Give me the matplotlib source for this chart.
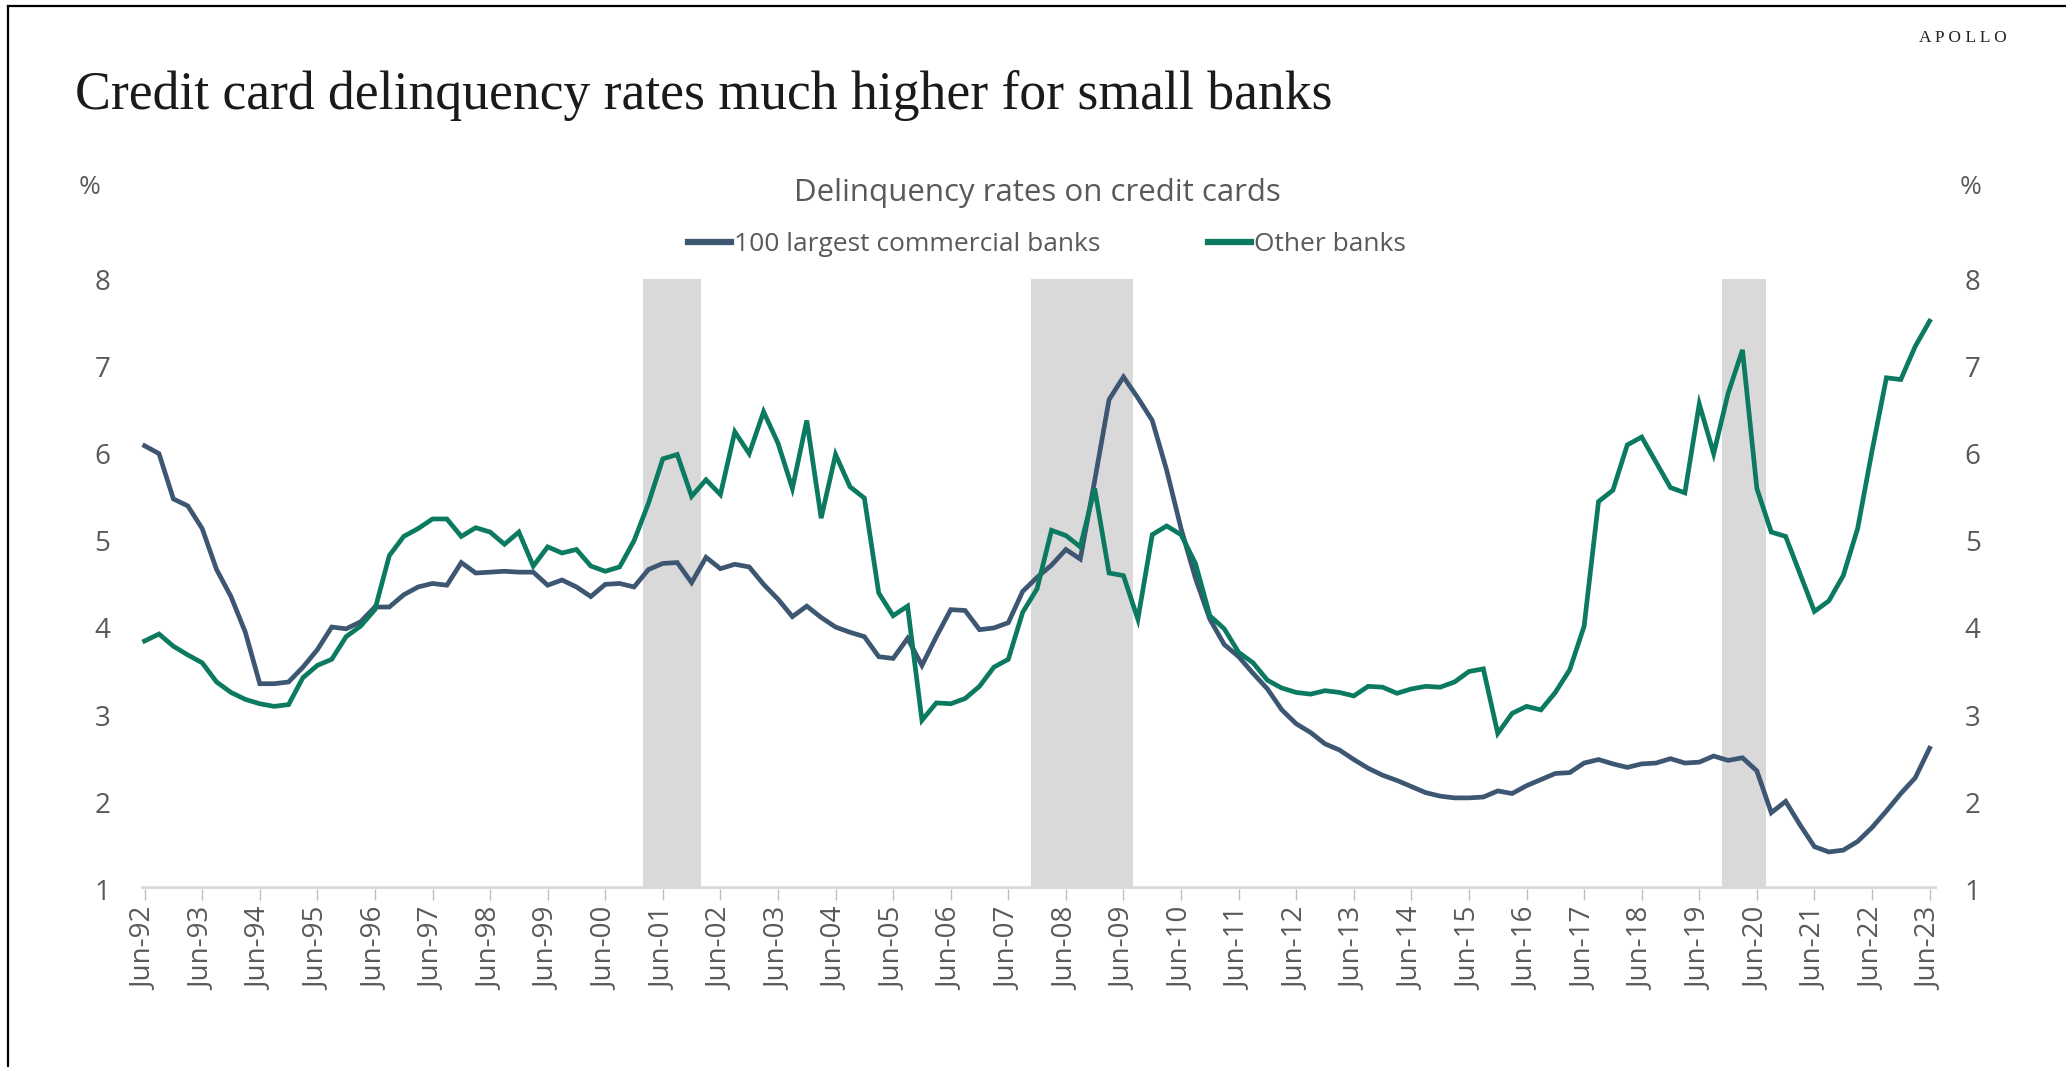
import matplotlib
matplotlib.use("Agg")
import matplotlib.pyplot as plt
import numpy as np

# ---------------- data ----------------
years = list(range(1992, 2024))
tick_labels = ["Jun-%02d" % (y % 100) for y in years]

large_banks = [
    6.09, 6.00, 5.48, 5.40, 5.14, 4.67, 4.36, 3.95, 3.36, 3.36, 3.38, 3.55, 3.75, 4.01, 3.99, 4.07,
    4.24, 4.24, 4.38, 4.47, 4.51, 4.49, 4.75, 4.63, 4.64, 4.65, 4.64, 4.64, 4.49, 4.55, 4.47, 4.36,
    4.50, 4.51, 4.47, 4.67, 4.74, 4.75, 4.52, 4.81, 4.68, 4.73, 4.70, 4.50, 4.33, 4.13, 4.25, 4.12,
    4.01, 3.95, 3.90, 3.67, 3.65, 3.88, 3.57, 3.90, 4.21, 4.20, 3.98, 4.00, 4.06, 4.42, 4.58, 4.72,
    4.90, 4.79, 5.69, 6.62, 6.88, 6.64, 6.38, 5.81, 5.14, 4.57, 4.10, 3.81, 3.67, 3.48, 3.30, 3.06,
    2.90, 2.80, 2.67, 2.60, 2.49, 2.39, 2.31, 2.25, 2.18, 2.11, 2.07, 2.05, 2.05, 2.06, 2.13, 2.10,
    2.19, 2.26, 2.33, 2.34, 2.45, 2.49, 2.44, 2.40, 2.44, 2.45, 2.50, 2.45, 2.46, 2.53, 2.48, 2.51,
    2.36, 1.88, 2.01, 1.74, 1.49, 1.43, 1.45, 1.55, 1.71, 1.90, 2.10, 2.28, 2.62,
]

other_banks = [
    3.85, 3.93, 3.79, 3.69, 3.60, 3.38, 3.26, 3.18, 3.13, 3.10, 3.12, 3.43, 3.57, 3.64, 3.90, 4.02,
    4.21, 4.83, 5.05, 5.14, 5.25, 5.25, 5.05, 5.15, 5.10, 4.96, 5.10, 4.71, 4.93, 4.86, 4.90, 4.71,
    4.65, 4.70, 5.00, 5.43, 5.94, 5.99, 5.51, 5.70, 5.53, 6.25, 6.00, 6.48, 6.12, 5.60, 6.38, 5.26,
    5.99, 5.62, 5.49, 4.40, 4.14, 4.25, 2.94, 3.14, 3.13, 3.19, 3.33, 3.55, 3.64, 4.18, 4.45, 5.12,
    5.06, 4.93, 5.60, 4.63, 4.60, 4.10, 5.07, 5.17, 5.07, 4.74, 4.14, 3.99, 3.72, 3.60, 3.40, 3.31,
    3.26, 3.24, 3.28, 3.26, 3.22, 3.33, 3.32, 3.25, 3.30, 3.33, 3.32, 3.38, 3.50, 3.53, 2.79, 3.02,
    3.10, 3.06, 3.26, 3.52, 4.02, 5.45, 5.58, 6.10, 6.19, 5.90, 5.61, 5.55, 6.57, 6.00, 6.69, 7.19,
    5.60, 5.10, 5.05, 4.62, 4.19, 4.31, 4.60, 5.14, 6.03, 6.87, 6.85, 7.23, 7.52,
]

# NBER recessions, quarterly (peak quarter, trough quarter), as quarter index from Jun-92
recession_start = [35, 62, 110]
recession_end = [38, 68, 112]

series_names = ["100 largest commercial banks", "Other banks"]

# ---------------- style ----------------
BLUE = "#3D5672"
GREEN = "#0B7A60"
GRAY_TXT = "#595959"
SHADE = "#D9D9D9"
SANS = ["Open Sans", "DejaVu Sans"]
SERIF = ["Liberation Serif", "DejaVu Serif"]

W, H = 2066, 1067
fig = plt.figure(figsize=(W / 100, H / 100), dpi=100)

x = np.arange(len(large_banks))
n = len(large_banks)

# axes geometry in pixels
px_left, px_right = 141, 1937
px_top, px_bot = 279.3, 889.4
ax = fig.add_axes([px_left / W, 1 - px_bot / H, (px_right - px_left) / W, (px_bot - px_top) / H])
x0 = 0 - (144.6 - px_left) / 14.4
x1 = (n - 1) + (px_right - 1929.6) / 14.4
ax.set_xlim(x0, x1)
ax.set_ylim(1, 8)

# recession shading as quarterly columns
for s, e in zip(recession_start, recession_end):
    ax.axvspan(s - 0.4, e + 0.65, color=SHADE, lw=0, zorder=0)

# baseline
ax.axhline(1, color=SHADE, lw=4, zorder=1)

ax.plot(x, large_banks, color=BLUE, lw=3.4, label=series_names[0], zorder=3, solid_joinstyle="miter")
ax.plot(x, other_banks, color=GREEN, lw=3.4, label=series_names[1], zorder=3, solid_joinstyle="miter")

for sp in ax.spines.values():
    sp.set_visible(False)

ax.set_xticks(np.arange(0, n, 4))
ax.set_xticklabels(tick_labels, rotation=90, fontsize=20, color=GRAY_TXT, family=SANS)
ax.tick_params(axis="x", length=8, width=1, color="#BFBFBF", pad=5)

yt = np.arange(1, 9)
ax.set_yticks(yt)
ax.set_yticklabels([str(v) for v in yt], fontsize=20, color=GRAY_TXT, family=SANS)
ax.tick_params(axis="y", length=0, pad=22)

ax2 = ax.twinx()
ax2.set_ylim(1, 8)
ax2.set_yticks(yt)
ax2.set_yticklabels([str(v) for v in yt], fontsize=20, color=GRAY_TXT, family=SANS)
ax2.tick_params(axis="y", length=0, pad=20)
for sp in ax2.spines.values():
    sp.set_visible(False)

# texts
fig.text(75 / W, 1 - 109 / H, "Credit card delinquency rates much higher for small banks",
         fontsize=38.6, family=SERIF, color="#1a1a1a", ha="left", va="baseline")
fig.text(2007 / W, 1 - 38 / H, "A P O L L O", fontsize=12.5, family=SERIF, color="#222222",
         ha="right", va="center")
fig.text(1037 / W, 1 - 193 / H, "Delinquency rates on credit cards", fontsize=22.5,
         family=SANS, color=GRAY_TXT, ha="center", va="center")
fig.text(90 / W, 1 - 187 / H, "%", fontsize=19, family=SANS, color=GRAY_TXT, ha="center", va="center")
fig.text(1971 / W, 1 - 187 / H, "%", fontsize=19, family=SANS, color=GRAY_TXT, ha="center", va="center")

leg = fig.legend(loc="center", bbox_to_anchor=(1047 / W, 1 - 245 / H), ncol=2, frameon=False,
                 prop={"family": SANS, "size": 19}, handlelength=1.6, handletextpad=0.12,
                 columnspacing=4.1, labelcolor=GRAY_TXT)
for h in leg.legend_handles:
    h.set_linewidth(4.5)

# frame lines (top and left)
fig.add_artist(plt.Line2D([8 / W, 1], [1 - 6 / H, 1 - 6 / H], color="black", lw=1.6))
fig.add_artist(plt.Line2D([8 / W, 8 / W], [0, 1 - 6 / H], color="black", lw=1.6))

fig.savefig("out.png", dpi=100)
